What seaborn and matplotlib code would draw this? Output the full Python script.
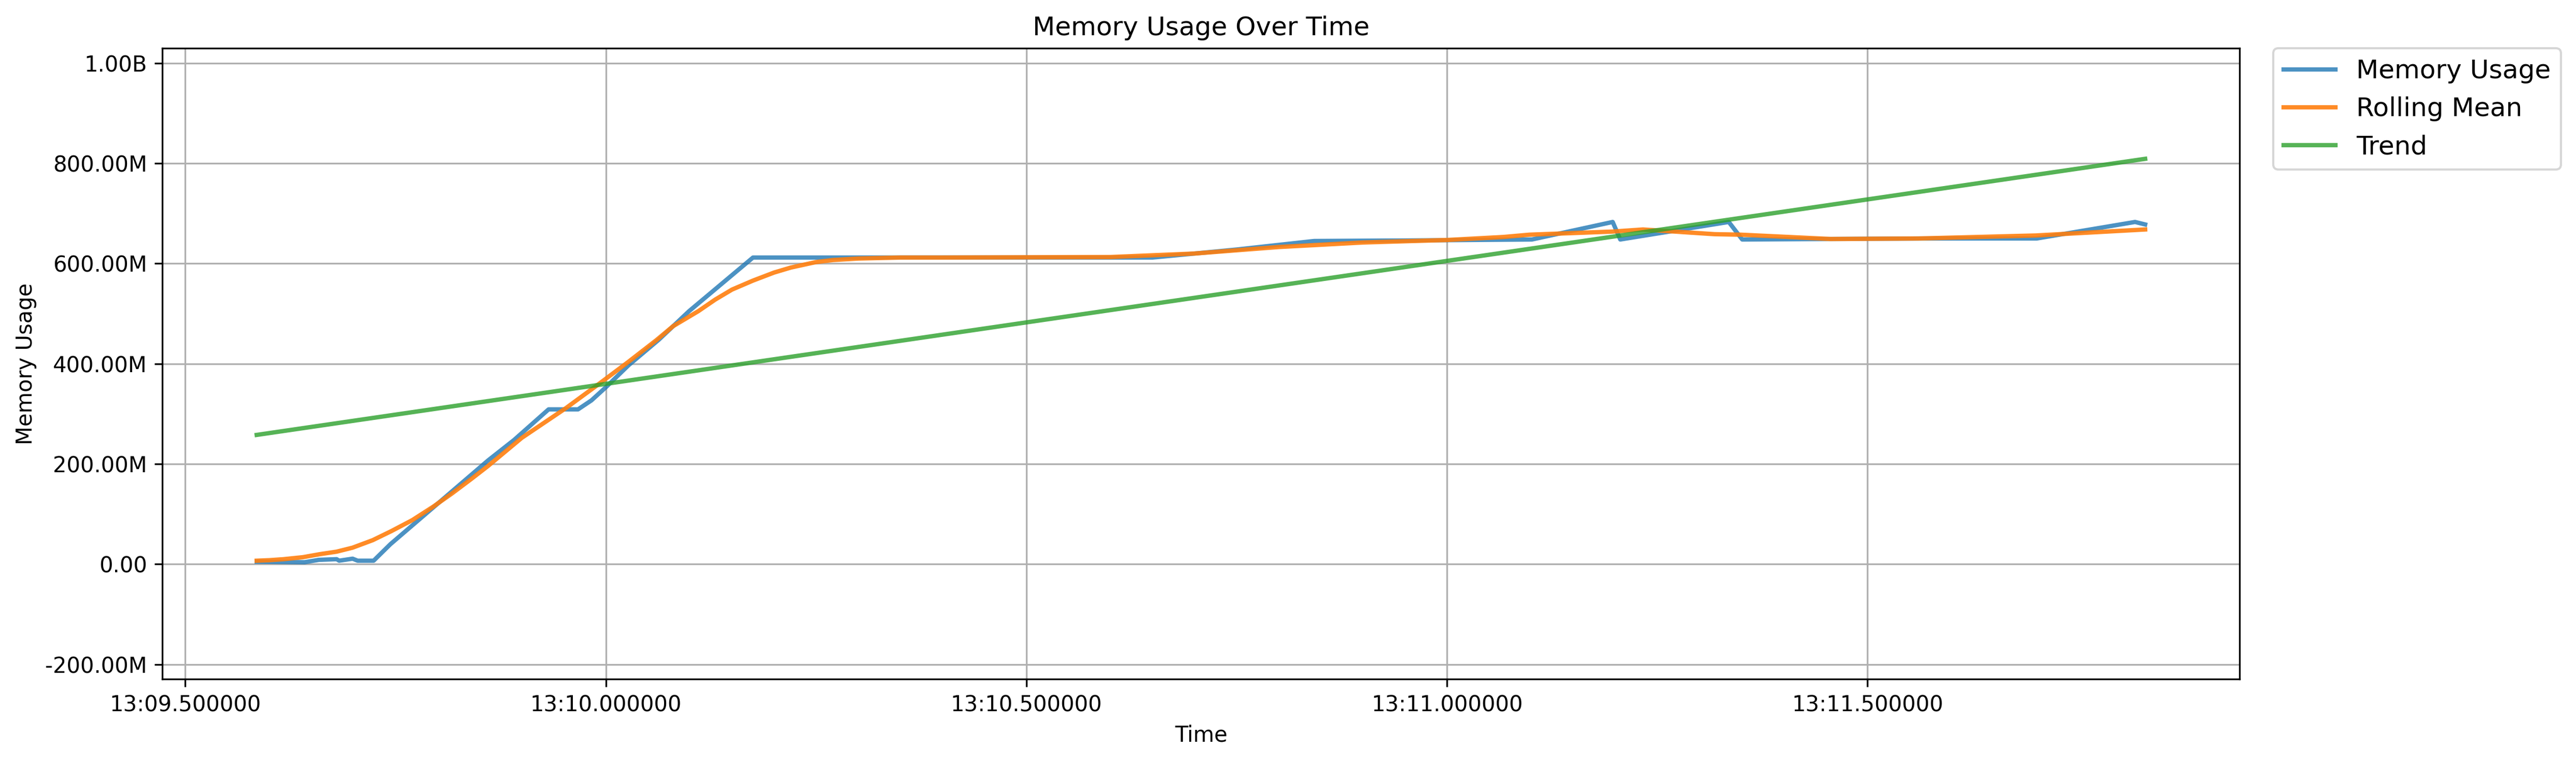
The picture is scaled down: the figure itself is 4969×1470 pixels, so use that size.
import numpy as np
import pandas as pd
import matplotlib
matplotlib.use("Agg")
import matplotlib.pyplot as plt
import matplotlib.dates as mdates
from matplotlib.ticker import FuncFormatter
import seaborn as sns

# ---- data (time offsets in seconds after 13:09.5, values in millions) ----
base_time = "2024-01-01 00:13:09.500000"

mem_t = [0.085, 0.142, 0.159, 0.180, 0.183, 0.199, 0.205, 0.224, 0.244, 0.360,
         0.391, 0.432, 0.467, 0.483, 0.500, 0.527, 0.563, 0.599, 0.675, 1.150,
         1.250, 1.342, 1.450, 1.601, 1.697, 1.706, 1.835, 1.851, 2.060, 2.201,
         2.318, 2.330]
mem_v = [5, 4, 8.7, 10, 7, 11, 7, 7, 40, 207,
         248, 309, 309, 327, 353, 397, 448, 505, 612, 612,
         628, 645, 646, 648, 683, 648, 683, 648, 650, 650,
         683, 678]

roll_t = [0.085, 0.100, 0.117, 0.140, 0.160, 0.180, 0.199, 0.223, 0.245, 0.270,
          0.295, 0.317, 0.340, 0.360, 0.400, 0.453, 0.492, 0.527, 0.560, 0.580,
          0.610, 0.630, 0.650, 0.675, 0.700, 0.720, 0.750, 0.770, 0.800, 0.850,
          0.900, 1.100, 1.200, 1.300, 1.400, 1.500, 1.567, 1.598, 1.697, 1.733,
          1.818, 1.849, 1.956, 2.060, 2.200, 2.330]
roll_v = [7, 8, 10, 14, 20, 25, 33, 48, 66, 88,
          115, 141, 170, 196, 252, 312, 360, 404, 447, 475,
          505, 528, 548, 566, 582, 592, 603, 607, 610, 612,
          612, 613, 620, 633, 642, 647, 653, 657.6, 663.8, 668,
          658.6, 657.6, 649, 650, 656, 668]

trend_t = [0.085, 2.330]
trend_v = [258, 809]

series_labels = ["Memory Usage", "Rolling Mean", "Trend"]
series_colors = ["#1f77b4", "#ff7f0e", "#2ca02c"]
series_alpha = [0.8, 0.9, 0.8]


def to_frame(ts, vs):
    t0 = pd.Timestamp(base_time)
    return pd.DataFrame({
        "Time": [t0 + pd.Timedelta(seconds=s) for s in ts],
        "Value": [v * 1e6 for v in vs],
    })


frames = [to_frame(mem_t, mem_v), to_frame(roll_t, roll_v), to_frame(trend_t, trend_v)]

fig, ax = plt.subplots(figsize=(4969 / 300, 1470 / 300), dpi=300)
fig.subplots_adjust(left=0.0630, right=0.8694, top=0.9367, bottom=0.1088)

for df, lab, col, al in zip(frames, series_labels, series_colors, series_alpha):
    sns.lineplot(data=df, x="Time", y="Value", ax=ax, label=lab, color=col,
                 alpha=al, linewidth=2)


def fmt_val(x, pos):
    if abs(x) >= 1e9:
        return f"{x / 1e9:.2f}B"
    if abs(x) >= 1e6:
        return f"{x / 1e6:.2f}M"
    return f"{x:.2f}"


ax.yaxis.set_major_formatter(FuncFormatter(fmt_val))
ax.xaxis.set_major_locator(mdates.MicrosecondLocator(interval=500000))
ax.xaxis.set_major_formatter(mdates.DateFormatter("%M:%S.%f"))
ax.set_ylim(-229.3e6, 1029.7e6)

ax.grid(True)
ax.set_title("Memory Usage Over Time", fontsize=12)
ax.set_xlabel("Time", fontsize=10)
ax.set_ylabel("Memory Usage", fontsize=10)
ax.legend(loc="upper left", bbox_to_anchor=(1.0162, 1), borderaxespad=0, fontsize=12)

fig.savefig("out.png", dpi=300)
